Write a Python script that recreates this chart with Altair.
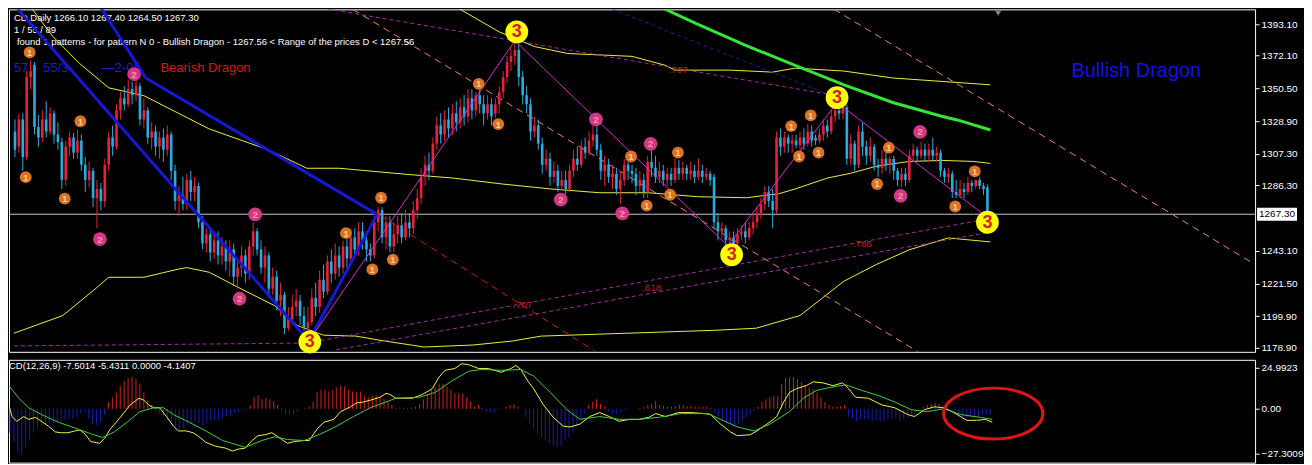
import altair as alt
import pandas as pd

# ---------------- candles (daily OHLC, one per bar index) ----------------
opens = [1322, 1312, 1330, 1305, 1358, 1366, 1325, 1318, 1330, 1322,
         1334, 1320, 1315, 1290, 1312, 1318, 1308, 1316, 1300, 1290,
         1296, 1278, 1284, 1276, 1300, 1318, 1312, 1336, 1344, 1340,
         1350, 1346, 1352, 1330, 1336, 1318, 1322, 1312, 1318, 1310,
         1320, 1296, 1276, 1280, 1274, 1290, 1282, 1286, 1262, 1248,
         1254, 1242, 1250, 1240, 1246, 1236, 1244, 1226, 1232, 1240,
         1228, 1246, 1256, 1244, 1232, 1240, 1218, 1226, 1210, 1214,
         1192, 1198, 1206, 1210, 1200, 1192, 1196, 1212, 1206, 1224,
         1216, 1236, 1228, 1240, 1232, 1246, 1238, 1252, 1244, 1256,
         1250, 1244, 1240, 1262, 1270, 1252, 1262, 1246, 1254, 1260,
         1252, 1262, 1258, 1270, 1278, 1292, 1300, 1296, 1314, 1326,
         1320, 1330, 1324, 1334, 1328, 1338, 1332, 1344, 1336, 1346,
         1340, 1334, 1340, 1334, 1340, 1348, 1358, 1368, 1372, 1376,
         1358, 1346, 1340, 1322, 1326, 1314, 1300, 1304, 1292, 1296,
         1286, 1290, 1284, 1296, 1304, 1300, 1312, 1308, 1316, 1320,
         1310, 1296, 1300, 1292, 1294, 1284, 1290, 1300, 1296, 1294,
         1286, 1290, 1282, 1302, 1298, 1292, 1296, 1290, 1294, 1290,
         1298, 1294, 1298, 1294, 1296, 1292, 1296, 1292, 1294, 1292,
         1262, 1256, 1258, 1250, 1252, 1248, 1254, 1256, 1252, 1258,
         1262, 1268, 1274, 1282, 1276, 1270, 1318, 1312, 1318, 1314,
         1316, 1313, 1318, 1314, 1322, 1318, 1316, 1320, 1326, 1322,
         1332, 1336, 1334, 1338, 1304, 1314, 1300, 1322, 1312, 1306,
         1312, 1300, 1298, 1304, 1300, 1304, 1296, 1290, 1294, 1290,
         1306, 1310, 1306, 1310, 1306, 1310, 1306, 1308, 1296, 1292,
         1294, 1282, 1280, 1284, 1282, 1288, 1286, 1290, 1286, 1285]
highs = [1330, 1334, 1334, 1362, 1369, 1368, 1333, 1336, 1342, 1338,
         1336, 1328, 1318, 1316, 1322, 1321, 1323, 1320, 1305, 1302,
         1298, 1290, 1288, 1304, 1322, 1326, 1340, 1348, 1352, 1356,
         1355, 1356, 1354, 1344, 1338, 1328, 1326, 1322, 1324, 1326,
         1322, 1300, 1286, 1292, 1294, 1296, 1292, 1288, 1266, 1258,
         1258, 1254, 1256, 1252, 1250, 1250, 1248, 1236, 1246, 1244,
         1250, 1262, 1258, 1250, 1246, 1242, 1232, 1230, 1222, 1216,
         1206, 1214, 1218, 1214, 1206, 1206, 1218, 1222, 1230, 1234,
         1240, 1244, 1248, 1246, 1250, 1252, 1258, 1258, 1262, 1262,
         1256, 1248, 1266, 1272, 1272, 1266, 1266, 1262, 1266, 1268,
         1270, 1268, 1276, 1284, 1298, 1306, 1308, 1318, 1332, 1334,
         1336, 1338, 1340, 1342, 1344, 1346, 1350, 1350, 1348, 1350,
         1346, 1346, 1344, 1344, 1352, 1362, 1372, 1378, 1382, 1380,
         1362, 1352, 1344, 1332, 1330, 1318, 1310, 1308, 1302, 1300,
         1296, 1296, 1300, 1310, 1312, 1316, 1318, 1322, 1326, 1326,
         1314, 1306, 1304, 1300, 1298, 1296, 1304, 1302, 1300, 1298,
         1296, 1294, 1306, 1310, 1306, 1302, 1300, 1298, 1298, 1304,
         1303, 1302, 1300, 1302, 1300, 1304, 1300, 1298, 1296, 1294,
         1268, 1262, 1260, 1256, 1256, 1258, 1260, 1262, 1262, 1268,
         1272, 1278, 1286, 1286, 1284, 1322, 1324, 1322, 1320, 1320,
         1320, 1322, 1324, 1327, 1326, 1320, 1324, 1330, 1330, 1336,
         1340, 1340, 1340, 1340, 1320, 1316, 1326, 1328, 1316, 1318,
         1314, 1304, 1310, 1308, 1306, 1306, 1298, 1298, 1298, 1310,
         1314, 1312, 1315, 1314, 1314, 1318, 1312, 1310, 1298, 1298,
         1296, 1290, 1290, 1288, 1292, 1290, 1290, 1292, 1288, 1287]
lows = [1305, 1308, 1296, 1303, 1350, 1320, 1312, 1315, 1318, 1320,
        1314, 1310, 1284, 1286, 1306, 1304, 1304, 1296, 1282, 1285,
        1272, 1258, 1270, 1272, 1296, 1306, 1310, 1330, 1336, 1338,
        1340, 1342, 1326, 1324, 1314, 1310, 1306, 1304, 1302, 1306,
        1290, 1270, 1266, 1270, 1270, 1276, 1276, 1258, 1244, 1242,
        1236, 1238, 1234, 1234, 1230, 1226, 1220, 1218, 1226, 1222,
        1224, 1240, 1240, 1228, 1222, 1212, 1214, 1204, 1200, 1188,
        1190, 1194, 1200, 1194, 1190, 1186, 1194, 1200, 1202, 1212,
        1214, 1222, 1224, 1226, 1228, 1232, 1234, 1238, 1240, 1244,
        1236, 1236, 1238, 1256, 1248, 1244, 1242, 1242, 1248, 1248,
        1250, 1252, 1254, 1264, 1274, 1286, 1290, 1294, 1310, 1314,
        1316, 1318, 1320, 1322, 1324, 1326, 1328, 1330, 1332, 1334,
        1326, 1330, 1326, 1331, 1334, 1344, 1354, 1362, 1366, 1352,
        1340, 1334, 1316, 1318, 1310, 1294, 1296, 1286, 1288, 1282,
        1283, 1280, 1282, 1292, 1296, 1298, 1304, 1306, 1312, 1306,
        1290, 1286, 1288, 1284, 1280, 1274, 1286, 1290, 1288, 1280,
        1282, 1278, 1278, 1292, 1288, 1288, 1286, 1286, 1286, 1288,
        1290, 1290, 1290, 1290, 1288, 1290, 1288, 1290, 1286, 1258,
        1250, 1252, 1246, 1245, 1245, 1246, 1250, 1248, 1250, 1254,
        1258, 1264, 1270, 1272, 1258, 1268, 1306, 1308, 1308, 1308,
        1311, 1310, 1310, 1312, 1312, 1313, 1314, 1316, 1318, 1320,
        1328, 1330, 1330, 1300, 1300, 1296, 1298, 1306, 1300, 1302,
        1296, 1292, 1294, 1296, 1294, 1290, 1286, 1285, 1286, 1288,
        1302, 1302, 1304, 1302, 1302, 1302, 1302, 1292, 1288, 1288,
        1278, 1278, 1278, 1278, 1280, 1282, 1284, 1284, 1280, 1264.5]
closes = [1310, 1330, 1305, 1358, 1362, 1325, 1318, 1330, 1322, 1334,
          1320, 1315, 1290, 1312, 1318, 1308, 1316, 1300, 1290, 1296,
          1278, 1284, 1276, 1300, 1318, 1312, 1336, 1344, 1340, 1350,
          1346, 1352, 1330, 1336, 1318, 1322, 1312, 1318, 1310, 1320,
          1296, 1276, 1280, 1274, 1290, 1282, 1286, 1262, 1248, 1254,
          1242, 1250, 1240, 1246, 1236, 1244, 1226, 1232, 1240, 1228,
          1246, 1256, 1244, 1232, 1240, 1218, 1226, 1210, 1214, 1192,
          1198, 1206, 1210, 1200, 1192, 1196, 1212, 1206, 1224, 1216,
          1236, 1228, 1240, 1232, 1246, 1238, 1252, 1244, 1256, 1250,
          1244, 1240, 1262, 1270, 1252, 1262, 1246, 1254, 1260, 1252,
          1262, 1258, 1270, 1278, 1292, 1300, 1296, 1314, 1326, 1320,
          1330, 1324, 1334, 1328, 1338, 1332, 1344, 1336, 1346, 1340,
          1334, 1340, 1332, 1340, 1348, 1358, 1368, 1372, 1376, 1358,
          1346, 1340, 1322, 1326, 1314, 1300, 1304, 1292, 1296, 1286,
          1290, 1284, 1296, 1304, 1300, 1312, 1308, 1316, 1320, 1310,
          1296, 1300, 1292, 1294, 1284, 1290, 1300, 1296, 1294, 1286,
          1290, 1282, 1302, 1298, 1292, 1296, 1290, 1294, 1290, 1298,
          1294, 1298, 1294, 1296, 1292, 1296, 1292, 1294, 1290, 1262,
          1256, 1258, 1250, 1252, 1248, 1254, 1256, 1252, 1258, 1262,
          1268, 1274, 1282, 1276, 1270, 1318, 1312, 1318, 1314, 1316,
          1313, 1318, 1314, 1322, 1316, 1316, 1320, 1326, 1322, 1332,
          1336, 1334, 1338, 1304, 1314, 1300, 1322, 1312, 1306, 1312,
          1300, 1298, 1304, 1300, 1304, 1296, 1290, 1294, 1290, 1306,
          1310, 1306, 1310, 1306, 1310, 1306, 1308, 1296, 1292, 1294,
          1282, 1280, 1284, 1282, 1288, 1286, 1290, 1286, 1284, 1267.3]

# ---------------- MACD (12,26,9) ----------------
macd_hist = [-14.5, -20.3, -26.2, -27.9, -23.3, -18.6, -14.5, -11.6, -9.9,
             -9.3, -8.7, -8.7, -8.1, -7.6, -7.0, -6.4, -5.8, -5.2,
             -2.9, -1.7, -5.8, -9.3, -9.9, -8.1, -3.5,
             4.1, 7.0, 9.9, 14.0, 16.9, 18.6, 19.2, 18.0, 15.1, 9.9, 5.2, 2.3,
             -1.7, -2.9, -4.7, -7.0, -8.7, -11.6, -12.8, -11.6, -9.9, -8.7,
             -7.6, -8.7, -9.9, -8.7, -7.6, -7.0, -7.0, -5.8, -4.7, -4.1,
             -2.9, -2.3, -1.2, -0.6,
             2.3, 7.0, 8.1, 5.8, 6.4, 5.8, 4.7, 2.3,
             -1.7, -3.5, -4.1, -3.5, -1.7, 0.0, 0.6,
             1.2, 4.1, 9.9, 11.6, 11.6, 10.5, 11.6, 12.8, 14.0, 13.4, 11.6,
             10.5, 9.9, 10.5, 8.1, 7.0, 8.1, 8.1, 7.0, 5.8, 4.1, 2.3,
             0.6, 0.6, 0.6, 0.6, 0.6, 1.2,
             2.9, 5.8, 8.7, 11.6, 13.4, 15.1, 15.1, 13.4, 11.6, 9.3, 9.3, 9.3,
             7.0, 4.1, 1.2, 2.3, 0.6,
             -1.7, -2.3, -2.3, -0.6, 0.0, 1.2, 2.3, 2.9, 1.2, 0.0,
             -5.2, -9.3, -12.2, -15.1, -17.4, -19.2, -20.9, -22.7, -23.3, -22.7,
             -19.2, -17.4, -14.5, -10.5, -7.0, -2.9,
             2.3, 4.1, 5.8, 2.9, 1.2,
             -1.7, -3.5, -3.5, -2.3, -1.2, -0.6,
             0.0, 0.0, 0.6, 1.2,
             2.3, 2.9, 4.7, 2.3, 1.7, 1.2, 1.2, 1.7, 2.3, 2.3, 1.7, 1.7, 1.2,
             1.2, 1.2, 1.2, 0.6,
             -2.3, -4.7, -6.4, -8.7, -9.3, -10.5, -9.3, -7.6, -5.2, -3.5, -1.7,
             1.2, 4.1, 5.8, 7.0, 7.6, 7.6,
             15.1, 18.6, 19.2, 19.2, 18.0, 16.3, 14.5, 12.8, 11.6, 9.9, 7.0,
             4.1, 2.3, 1.2, 1.2, 1.7, 2.3,
             -4.7, -5.8, -7.6, -6.4, -6.4, -6.4, -7.6, -7.0, -8.1, -7.6, -6.4,
             -6.4, -5.8, -7.6, -6.4, -5.2, -3.5, -2.3,
             0.0, 1.2, 2.3, 2.9, 3.5, 2.9, 1.7,
             -1.7, -2.3, -3.5, -4.7, -5.2, -5.2, -5.2, -5.2, -4.7, -3.5, -3.5, -3.5]
macd_main = [(-0.25, 2.3), (0.5, -4.7), (1.75, -7.6), (3.5, -4.7), (4.75, -6.4),
             (6.5, -5.2), (8, -7.6), (9.75, -10.5), (11.5, -14.0), (13, -14.5),
             (14.75, -14.5), (16.5, -13.4), (17.75, -12.8), (19, -15.1), (20.5, -19.8),
             (22.75, -20.9), (24, -18.0), (25.5, -12.2), (28, -5.2), (30.5, 2.3),
             (32.75, 6.4), (34, 5.2), (35.25, 2.3), (36.5, 0.6), (38, 0.6),
             (39.75, -4.7), (41.5, -10.5), (42.75, -13.4), (44.75, -13.4), (46.5, -14.5),
             (48, -16.9), (49.75, -20.3), (52.25, -22.7), (54.75, -23.8), (56.5, -25.6),
             (58, -24.4), (59.75, -23.8), (61.5, -19.2), (63, -16.3), (64.75, -15.7),
             (66.5, -14.5), (67.75, -16.3), (69, -18.6), (70.5, -20.9), (72.25, -19.8),
             (74.75, -19.2), (76, -19.2), (78, -12.2), (79.75, -8.1), (82.25, -6.4),
             (84, -1.7), (86.5, 1.2), (88, 3.5), (89.75, 4.1), (91.5, 5.2),
             (94, 7.0), (95.5, 9.3), (96.5, 8.7), (98, 6.4), (102.25, 6.4),
             (104.75, 8.7), (107.25, 12.2), (109, 19.2), (110.5, 23.3), (113, 24.4),
             (114.75, 27.3), (116.5, 26.7), (119, 24.4), (121.5, 24.4), (124.75, 22.1),
             (127.25, 24.4), (128.5, 26.2), (129.75, 23.8), (131.5, 16.9), (133, 12.2),
             (135.5, 2.3), (138, -5.2), (140.5, -10.5), (142.25, -11.0), (144.75, -9.3),
             (147.25, -4.7), (149.75, -2.3), (152.25, -4.7), (154.75, -7.6), (157.25, -6.4),
             (159.75, -6.4), (162.25, -5.2), (164, -2.9), (166.5, -4.7), (169.75, -2.3),
             (173, -2.3), (176.5, -2.9), (178, -3.5), (180.5, -9.3), (183, -14.0),
             (184.75, -16.3), (188, -15.7), (189.75, -13.4), (192.25, -9.3), (194.75, -4.7),
             (196.5, 4.1), (198, 9.9), (199.75, 12.2), (202.25, 14.0), (204, 16.3),
             (206.5, 15.7), (209, 14.0), (211.5, 15.7), (213, 12.2), (214.75, 7.0),
             (218, 6.4), (221.5, 2.3), (224.75, 0.6), (228, -3.5), (229.75, -4.7),
             (232.25, -0.6), (234.75, 1.2), (237.25, 0.6), (239.75, -2.3), (243, -7.0),
             (245.5, -7.0), (247.75, -6.4), (249.5, -8.1)]
macd_signal = [(-0.25, 14.0), (2.25, 6.4), (4.75, 0.6), (8, -3.5), (12.25, -8.1),
               (16.5, -11.6), (20.5, -15.1), (23.5, -17.4), (26.5, -14.0), (29.75, -8.1),
               (33, -1.7), (36.5, 0.6), (39, 0.6), (41.5, -3.5), (45.5, -8.1),
               (49.75, -13.4), (54, -19.2), (59.75, -23.3), (64, -19.2), (67.25, -16.9),
               (70.5, -18.6), (74.75, -19.2), (79, -15.1), (83, -10.5), (87.25, -4.7),
               (91.5, 0.6), (95.5, 4.1), (98, 6.4), (104, 7.0), (108, 9.9),
               (112.25, 16.9), (116.5, 22.7), (119.75, 23.8), (124.75, 23.3), (129.75, 23.8),
               (133, 19.8), (137.25, 9.9), (141.5, -0.6), (144.75, -6.4), (149.75, -4.7),
               (154.75, -6.4), (159.75, -6.4), (164.75, -5.2), (170.5, -2.9), (177.25, -2.9),
               (180.5, -6.4), (184.75, -11.0), (189, -13.4), (193, -9.3), (198, -1.7),
               (201.5, 6.4), (204.75, 11.0), (208, 12.8), (212.25, 14.5), (216.5, 11.0),
               (220.5, 8.1), (224.75, 4.1), (229, -0.6), (233, -1.7), (237.25, 0.0),
               (241.5, -3.5), (246.5, -5.2), (249.5, -6.4)]
macd_ticks = [24.9923, 0.0, -27.3009]
macd_header = "CD(12,26,9) -7.5014 -5.4311 0.0000 -4.1407"
macd_circle = (249.75, -2.9)

# ---------------- overlays on the price panel: (bar index, price) ----------------
band_upper = [(107.25, 1412.6), (114, 1402.8), (124, 1387.9), (133, 1378.2), (141.5, 1373.6),
              (158, 1371.7), (166.5, 1365.8), (169, 1362.6), (183, 1362.6), (194, 1361.3),
              (199.75, 1363.9), (212.25, 1362.0), (224.75, 1357.4), (249.75, 1352.9)]
band_mid = [(3.5, 1406.1), (9.75, 1384.7), (16.5, 1367.1), (24, 1350.9), (33, 1345.7),
            (49.75, 1323.7), (64.75, 1310.0), (74.75, 1297.7), (83, 1297.7), (99.75, 1293.8),
            (112.25, 1291.2), (124.75, 1287.3), (137.25, 1284.0), (149.75, 1281.5),
            (162.25, 1281.5), (174.75, 1278.9), (187.25, 1278.2), (195.5, 1280.8),
            (199.75, 1284.0), (208, 1291.2), (214, 1294.4), (220.5, 1299.0), (229, 1302.2),
            (237.25, 1302.9), (245.5, 1302.2), (249.75, 1300.9)]
band_lower = [(-0.25, 1188.6), (12.25, 1200.3), (20.5, 1217.8), (24, 1225.6), (33, 1225.6),
              (41.5, 1230.8), (44, 1232.0), (49.75, 1228.9), (58, 1217.8), (66.5, 1206.8),
              (72.25, 1193.8), (79, 1187.3), (87.25, 1186.7), (94.75, 1183.4), (104.75, 1179.5),
              (117.25, 1180.8), (127.25, 1183.4), (134.75, 1186.7), (149.75, 1188.0),
              (164.75, 1189.3), (179.75, 1190.6), (189.75, 1191.9), (201, 1200.3),
              (206.5, 1211.4), (212.25, 1223.0), (220.5, 1234.0), (229, 1243.8),
              (239, 1251.6), (249.75, 1249.0)]
ma_green = [(164, 1409.0), (166.5, 1402.8), (174.75, 1393.1), (187.25, 1378.8), (199.75, 1365.8),
            (212.25, 1352.9), (224.75, 1341.2), (237.25, 1332.1), (241.5, 1329.5), (249.75, 1323.0)]
bear_pattern = {"a": [(0.75, 1402.8), (75.25, 1183.4)],
                "b": [(75.25, 1183.4), (92.75, 1267.2)],
                "c": [(33.5, 1357.4), (92.75, 1267.2)],
                "d": [(21.75, 1404.8), (33.5, 1357.4)]}
bull_pattern = [(75.25, 1183.4), (128, 1382.1), (182.5, 1246.4), (210.5, 1341.2), (248, 1267.2)]
fib_dashed = {"base": [(-0.25, 1180.2), (74.75, 1182.1)],
              "upper": [(74.75, 1182.1), (247.25, 1263.3)],
              "lower": [(82.25, 1177.6), (249.75, 1255.5)],
              "top": [(74.75, 1405.4), (210.5, 1345.7)]}
navy_dashed = [(153, 1402.8), (210.5, 1344.4)]
salmon_dashed = {"d1": [(86.5, 1402.8), (231.25, 1176.3)],
                 "d3": [(209.75, 1402.8), (316.25, 1236.0)]}
red_dashed = [(93.5, 1266.5), (148.75, 1176.3)]
fib_labels = [(169.75, 1362.6, ".707"), (217, 1247.7, ".786"),
              (163, 1218.5, ".618"), (130, 1207.5, ".707")]

marks_1 = [(3.75, 1374.3), (2.75, 1291.8), (12.75, 1277.6), (16.75, 1328.8), (84.75, 1254.8),
           (91.5, 1230.8), (93.75, 1278.2), (96.75, 1237.3), (118.75, 1353.5), (123.75, 1326.9),
           (157.75, 1305.5), (161.75, 1273.0), (167.75, 1280.2), (169.75, 1308.1),
           (198.75, 1325.6), (200.75, 1305.5), (203.75, 1332.7), (205.75, 1308.1),
           (220.75, 1287.3), (223.75, 1311.3), (240.75, 1272.4), (245.75, 1295.7)]
marks_2 = [(30.5, 1360.0), (21.75, 1250.9), (61.5, 1267.2), (57.5, 1211.4), (139.75, 1276.9),
           (148.75, 1330.1), (155.5, 1267.8), (162.75, 1313.9), (226.75, 1279.5), (231.75, 1321.7)]
marks_3 = [(75.5, 1182.8), (128.5, 1387.9), (183.5, 1240.5), (210.5, 1344.4), (249, 1262.0)]

header_lines = [(-0.25, 1397.0, "CD,Daily  1266.10 1267.40 1264.50 1267.30"),
                (-0.25, 1389.2, "1 / 55 / 89"),
                (0.5, 1381.4, "found 1 patterns  -  for pattern N 0 - Bullish Dragon - 1267.56 < Range of the prices D < 1267.56")]
blue_notes = [(-0.25, 1363.9, "57"), (7.25, 1363.9, "55/3"), (22.25, 1363.9, "\u20142-05")]
bear_label = (37.25, 1363.9, "Bearish Dragon")
bull_label = (270.5, 1362.0, "Bullish Dragon")
shift_marker = (251.75, 1400.2)

y_ticks = [1393.10, 1372.10, 1350.50, 1328.90, 1307.30, 1286.30, 1243.10, 1221.50, 1199.90, 1178.90]
last_price = 1267.30

# ---------------- layout ----------------
W = 1248
H_MAIN = 343
H_MACD = 103
XDOM = [-0.25, 316.25]
YDOM = [1176.3, 1402.8]
MDOM = [-32.6, 29.65]
FONT = "Liberation Sans"
UP, DOWN = "#E8213C", "#29ABE2"

xs = alt.Scale(domain=XDOM, nice=False, zero=False)
ys = alt.Scale(domain=YDOM, nice=False, zero=False)
ms = alt.Scale(domain=MDOM, nice=False, zero=False)

main_axis = alt.Axis(orient="right", values=y_ticks, format=".2f", title=None, grid=False,
                     domain=False, ticks=True, tickSize=4, tickColor="white",
                     labelColor="white", labelFont=FONT, labelFontSize=10, labelPadding=2)
macd_axis = alt.Axis(orient="right", values=macd_ticks, title=None, grid=False, domain=False,
                     ticks=True, tickSize=4, tickColor="white", labelColor="white",
                     labelFont=FONT, labelFontSize=10, labelPadding=2,
                     labelExpr="datum.value == 0 ? '0.00' : format(datum.value, '.4f')")


def X(f):
    return alt.X(f"{f}:Q", scale=xs, axis=None)


def Y(f):
    return alt.Y(f"{f}:Q", scale=ys, axis=main_axis)


def MY(f):
    return alt.Y(f"{f}:Q", scale=ms, axis=macd_axis)


def pts_df(groups):
    rows = []
    for g, pts in groups.items():
        for k, (a, b) in enumerate(pts):
            rows.append({"g": g, "x": a, "y": b, "k": k})
    return pd.DataFrame(rows)


def line_layer(groups, **mk):
    return alt.Chart(pts_df(groups)).mark_line(clip=True, **mk).encode(
        x=X("x"), y=Y("y"), detail="g:N", order="k:Q")


candles = pd.DataFrame({"i": list(range(len(closes))), "o": opens, "h": highs,
                        "l": lows, "c": closes})
dir_color = alt.condition("datum.c >= datum.o", alt.value(UP), alt.value(DOWN))

price_line = alt.Chart(pd.DataFrame({"p": [last_price]})).mark_rule(
    color="#C8C8C8", strokeWidth=1).encode(y=Y("p"))

bands = line_layer({"u": band_upper, "m": band_mid, "l": band_lower}, color="#EDED3A", strokeWidth=1)
fibs = line_layer(fib_dashed, color="#A52AA5", strokeWidth=1, strokeDash=[4, 3])
navy = line_layer({"n": navy_dashed}, color="#1F1F8C", strokeWidth=1, strokeDash=[4, 3])
salmon = line_layer(salmon_dashed, color="#EE8466", strokeWidth=1, strokeDash=[7, 5])
reddash = line_layer({"r": red_dashed}, color="#D01818", strokeWidth=1, strokeDash=[7, 5])
green = line_layer({"g": ma_green}, color="#33E633", strokeWidth=3)

wicks = alt.Chart(candles).mark_rule(strokeWidth=1).encode(
    x=X("i"), y=Y("l"), y2="h:Q", color=dir_color)
bodies = alt.Chart(candles).mark_bar(width=2.6).encode(
    x=X("i"), y=Y("o"), y2="c:Q", color=dir_color)

bear = line_layer(bear_pattern, color="#1717D8", strokeWidth=3)
bull = line_layer({"b": bull_pattern}, color="#D42AD4", strokeWidth=1)

fib_df = pd.DataFrame(fib_labels, columns=["x", "y", "t"])
fib_text = alt.Chart(fib_df).mark_text(color="#C81818", font=FONT, fontSize=10).encode(
    x=X("x"), y=Y("y"), text="t:N")


def marker_layers(pts, label, fill, txt_color, size, fsize):
    df = pd.DataFrame(pts, columns=["x", "y"])
    df["t"] = label
    dot = alt.Chart(df).mark_point(shape="circle", filled=True, size=size, color=fill,
                                   opacity=1).encode(x=X("x"), y=Y("y"))
    txt = alt.Chart(df).mark_text(color=txt_color, font=FONT, fontWeight="bold",
                                  fontSize=fsize, baseline="middle", dy=0.5).encode(
        x=X("x"), y=Y("y"), text="t:N")
    return [dot, txt]


m1 = marker_layers(marks_1, "1", "#DB7322", "#FBD29A", 140, 9)
m2 = marker_layers(marks_2, "2", "#D2348E", "#F4A070", 190, 10)
m3 = marker_layers(marks_3, "3", "#FFFF00", "#D2202A", 520, 18)

hdr_df = pd.DataFrame(header_lines, columns=["x", "y", "t"])
hdr = alt.Chart(hdr_df).mark_text(color="white", font=FONT, fontSize=9.5, align="left",
                                  baseline="middle").encode(x=X("x"), y=Y("y"), text="t:N")
bn_df = pd.DataFrame(blue_notes, columns=["x", "y", "t"])
bnotes = alt.Chart(bn_df).mark_text(color="#1E1ECC", font=FONT, fontSize=13, align="left",
                                    baseline="middle").encode(x=X("x"), y=Y("y"), text="t:N")
bear_df = pd.DataFrame([bear_label], columns=["x", "y", "t"])
bear_txt = alt.Chart(bear_df).mark_text(color="#DC1414", font=FONT, fontSize=13, align="left",
                                        baseline="middle").encode(x=X("x"), y=Y("y"), text="t:N")
bull_df = pd.DataFrame([bull_label], columns=["x", "y", "t"])
bull_txt = alt.Chart(bull_df).mark_text(color="#1212E6", font=FONT, fontSize=20, align="left",
                                        baseline="middle").encode(x=X("x"), y=Y("y"), text="t:N")
shift_df = pd.DataFrame([shift_marker], columns=["x", "y"])
shift_pt = alt.Chart(shift_df).mark_point(shape="triangle-down", filled=True, size=40,
                                          color="#808080", opacity=1).encode(x=X("x"), y=Y("y"))

lp_df = pd.DataFrame({"x": [XDOM[1]], "y": [last_price], "t": [f"{last_price:.2f}"]})
lp_box = alt.Chart(lp_df).mark_point(shape="M-1,-0.33L1,-0.33L1,0.33L-1,0.33Z", size=1600,
                                     filled=True, color="white", opacity=1, xOffset=27).encode(
    x=X("x"), y=Y("y"))
lp_txt = alt.Chart(lp_df).mark_text(color="black", font=FONT, fontSize=10, dx=27).encode(
    x=X("x"), y=Y("y"), text="t:N")

main = alt.layer(price_line, bands, fibs, navy, salmon, reddash, green, hdr, bnotes, bear_txt,
                 wicks, bodies, bear, bull, fib_text, *m1, *m2, *m3, bull_txt, shift_pt,
                 lp_box, lp_txt).properties(width=W, height=H_MAIN)

# ---------------- MACD panel ----------------
hist_df = pd.DataFrame({"i": list(range(len(macd_hist))), "v": macd_hist})
hist_df["z"] = 0.0
hist = alt.Chart(hist_df).mark_rule(strokeWidth=1).encode(
    x=X("i"), y=MY("v"), y2="z:Q",
    color=alt.condition("datum.v >= 0", alt.value("#D42020"), alt.value("#1A1AB8")))
mm_df = pd.DataFrame(macd_main, columns=["x", "v"])
ms_df = pd.DataFrame(macd_signal, columns=["x", "v"])
mline = alt.Chart(mm_df).mark_line(color="#F2F23C", strokeWidth=1, clip=True).encode(
    x=X("x"), y=MY("v"))
sline = alt.Chart(ms_df).mark_line(color="#3FCF3F", strokeWidth=1, clip=True).encode(
    x=X("x"), y=MY("v"))
mh_df = pd.DataFrame({"x": [XDOM[0]], "v": [25.6], "t": [macd_header]})
mhdr = alt.Chart(mh_df).mark_text(color="white", font=FONT, fontSize=9.5, align="left",
                                  baseline="middle").encode(x=X("x"), y=MY("v"), text="t:N")
mc_df = pd.DataFrame([macd_circle], columns=["x", "v"])
mcirc = alt.Chart(mc_df).mark_point(
    shape="M-1,0A1,0.513,0,1,1,1,0A1,0.513,0,1,1,-1,0Z", size=9880, filled=False,
    stroke="#E01414", strokeWidth=3, opacity=1).encode(x=X("x"), y=MY("v"))

macd = alt.layer(hist, mline, sline, mhdr, mcirc).properties(width=W, height=H_MACD)

chart = alt.vconcat(main, macd, spacing=4).properties(
    background="black", padding={"left": 0, "top": 0, "right": 0, "bottom": 0}
).configure_view(stroke="white", strokeWidth=1)

chart.save("out.html", embed_options={"renderer": "svg", "actions": False})
